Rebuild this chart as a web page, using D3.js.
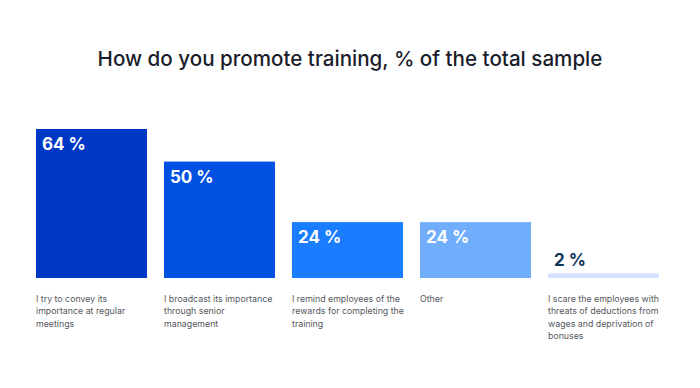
<!DOCTYPE html>
<html>
<head>
<meta charset="utf-8">
<script src="https://cdn.jsdelivr.net/npm/d3@7/dist/d3.min.js"></script>
<style>
  html, body { margin: 0; padding: 0; background: #ffffff; }
  svg { display: block; }
</style>
</head>
<body>
<svg id="chart" width="700" height="388"></svg>
<script>
const title = "How do you promote training, % of the total sample";
const categories = ["c1", "c2", "c3", "c4", "c5"];
const categoryLines = [
  ["I try to convey its", "importance at regular", "meetings"],
  ["I broadcast its importance", "through senior", "management"],
  ["I remind employees of the", "rewards for completing the", "training"],
  ["Other"],
  ["I scare the employees with", "threats of deductions from", "wages and deprivation of", "bonuses"]
];
const values = [64, 50, 24, 24, 2];
const valueLabels = ["64 %", "50 %", "24 %", "24 %", "2 %"];
const barColors = ["#0038c6", "#0050e2", "#1a7cff", "#70aefc", "#d6e2ff"];
const labelColors = ["#ffffff", "#ffffff", "#ffffff", "#ffffff", "#0d3358"];

const svg = d3.select("#chart");
const font = "Inter, 'Noto Sans', sans-serif";

svg.append("text")
  .attr("x", 350).attr("y", 66)
  .attr("text-anchor", "middle")
  .attr("font-family", font)
  .attr("font-size", 20.6)
  .attr("font-weight", 500)
  .attr("fill", "#1b1d2b")
  .text(title);

const x = d3.scaleBand().domain(categories).range([36, 659]).paddingInner(0.133).paddingOuter(0);
const y = d3.scaleLinear().domain([0, 64]).range([278, 129]);

const g = svg.append("g");
g.selectAll("rect.bar").data(values).join("rect")
  .attr("class", "bar")
  .attr("x", (d, i) => x(categories[i]))
  .attr("y", d => y(d))
  .attr("width", x.bandwidth())
  .attr("height", d => y(0) - y(d))
  .attr("fill", (d, i) => barColors[i]);

g.selectAll("text.val").data(values).join("text")
  .attr("class", "val")
  .attr("x", (d, i) => x(categories[i]) + 6)
  .attr("y", (d, i) => d < 10 ? y(d) - 7.5 : y(d) + 21)
  .attr("font-family", font)
  .attr("font-size", 17)
  .attr("font-weight", 700)
  .attr("fill", (d, i) => labelColors[i])
  .text((d, i) => valueLabels[i]);

categoryLines.forEach((lines, i) => {
  const t = g.append("text")
    .attr("font-family", font)
    .attr("font-size", 8.8)
    .attr("fill", "#555860");
  lines.forEach((ln, j) => {
    t.append("tspan")
      .attr("x", x(categories[i]))
      .attr("y", 302 + j * 12.3)
      .text(ln);
  });
});
</script>
</body>
</html>
